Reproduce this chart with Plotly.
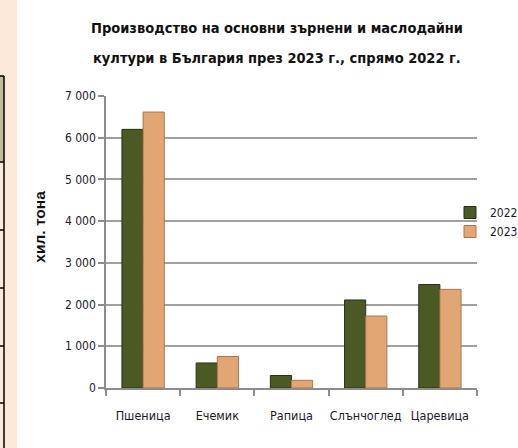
import plotly.graph_objects as go

categories = ["Пшеница", "Ечемик", "Рапица", "Слънчоглед", "Царевица"]
values_2022 = [6200, 600, 300, 2110, 2480]
values_2023 = [6615, 755, 185, 1725, 2365]
series_names = ["2022", "2023"]
y_ticks = [0, 1000, 2000, 3000, 4000, 5000, 6000, 7000]

title_line1 = "Производство на основни зърнени и маслодайни"
title_line2 = "култури в България през 2023 г., спрямо 2022 г."
y_title = "хил. тона"

W, H = 518, 448
L, R, T, B = 106, 41, 96, 60
pw, ph = W - L - R, H - T - B

def px_x(px):
    return (px - L) / pw

def px_y(py):
    return (H - B - py) / ph

FONT = "DejaVu Sans Condensed, Liberation Sans Narrow, sans-serif"

fig = go.Figure()
fig.add_trace(go.Bar(
    x=categories, y=values_2022, name=series_names[0],
    marker=dict(color="#4b5a24", line=dict(color="#28300f", width=1)),
))
fig.add_trace(go.Bar(
    x=categories, y=values_2023, name=series_names[1],
    marker=dict(color="#e2a674", line=dict(color="#a8764e", width=1)),
))

shapes = [
    dict(type="rect", xref="paper", yref="paper", x0=px_x(0), x1=px_x(17), y0=px_y(H), y1=px_y(0),
         fillcolor="#fde9d9", line=dict(width=0), layer="below"),
    dict(type="rect", xref="paper", yref="paper", x0=px_x(0), x1=px_x(4), y0=px_y(162), y1=px_y(76),
         fillcolor="#c4bd97", line=dict(width=0), layer="below"),
    dict(type="line", xref="paper", yref="paper", x0=px_x(4), x1=px_x(4), y0=px_y(76), y1=px_y(H),
         line=dict(color="#000000", width=1.5)),
]
for yy in [76, 162, 230, 288, 346, 403]:
    shapes.append(dict(type="line", xref="paper", yref="paper", x0=px_x(0), x1=px_x(4),
                       y0=px_y(yy), y1=px_y(yy), line=dict(color="#000000", width=1.5)))

fig.update_layout(
    width=W, height=H,
    margin=dict(l=L, r=R, t=T, b=B, autoexpand=False),
    paper_bgcolor="white", plot_bgcolor="white",
    separators=", ",
    barmode="group", bargap=0.43, bargroupgap=0,
    font=dict(family=FONT, size=13, color="#1a1a2a"),
    title=dict(
        text="<b>" + title_line1 + "</b>",
        font=dict(family=FONT, size=14.5, color="#111111"),
        x=277 / W, xref="container", xanchor="center",
        y=1 - 28 / H, yref="container", yanchor="middle",
    ),
    annotations=[dict(
        text="<b>" + title_line2 + "</b>",
        font=dict(family=FONT, size=14.5, color="#111111"),
        xref="paper", yref="paper", x=px_x(277), y=px_y(58),
        xanchor="center", yanchor="middle", showarrow=False,
    )],
    xaxis=dict(
        type="category", showline=True, linecolor="#8c8c8c", linewidth=1.5,
        ticks="outside", tickson="boundaries", ticklen=6, tickcolor="#8c8c8c", tickwidth=1.5,
        tickfont=dict(family=FONT, size=12.5, color="#1a1a2a"), tickangle=0,
        ticklabelstandoff=15,
        showgrid=False, automargin=False,
    ),
    yaxis=dict(
        range=[0, 7000], tickvals=y_ticks, tickformat=",d",
        showline=True, linecolor="#8c8c8c", linewidth=1.5,
        ticks="outside", ticklen=6, tickcolor="#8c8c8c", tickwidth=1.5,
        showgrid=True, gridcolor="#a0a0a0", gridwidth=1.5,
        tickfont=dict(family=FONT, size=12, color="#1a1a2a"),
        title=dict(text="&nbsp;" * 7 + "<b>" + y_title + "</b>",
                   font=dict(family="Liberation Sans, Arial, sans-serif", size=15.5, color="#111111"),
                   standoff=16),
        zeroline=False, automargin=False,
    ),
    legend=dict(
        x=px_x(450), xanchor="left", y=px_y(198), yanchor="top",
        bgcolor="rgba(0,0,0,0)", font=dict(family=FONT, size=12, color="#1a1a2a"),
        tracegroupgap=14, itemwidth=30,
    ),
    shapes=shapes,
)

fig.write_html("out.html", config={"displayModeBar": False},
               post_script="document.body.style.margin='0';document.body.style.padding='0';")
